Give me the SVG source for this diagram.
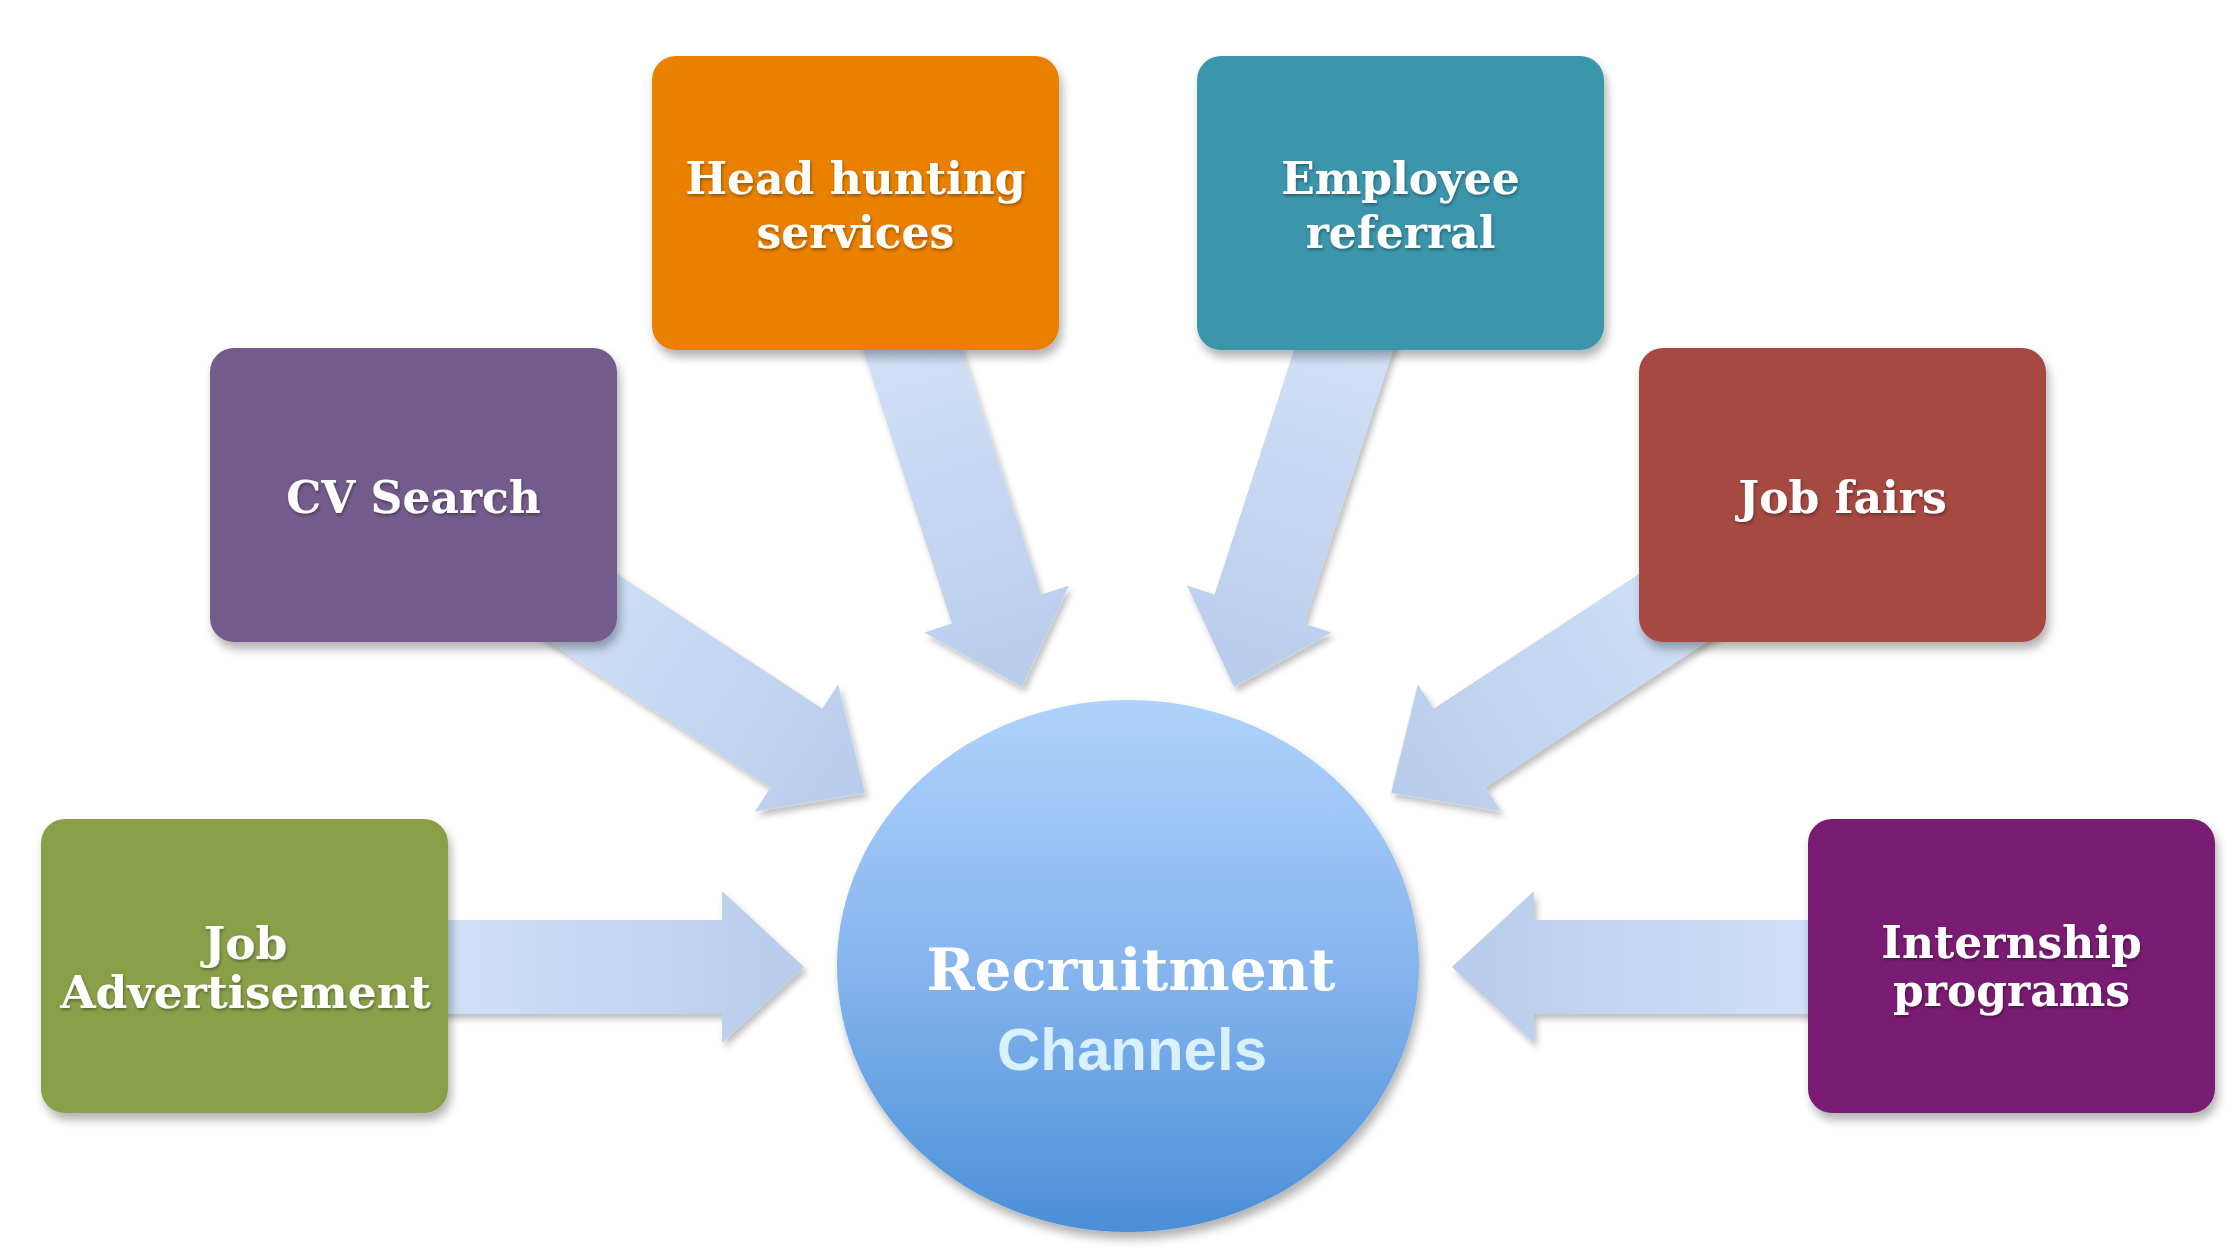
<svg xmlns="http://www.w3.org/2000/svg" width="2240" height="1260" viewBox="0 0 2240 1260">
  <defs>
    <linearGradient id="arrowGrad" gradientUnits="userSpaceOnUse" x1="-400" y1="0" x2="0" y2="0">
      <stop offset="0" stop-color="#d2e2f8"/>
      <stop offset="1" stop-color="#b8cceb"/>
    </linearGradient>
    <linearGradient id="circleGrad" x1="0" y1="0" x2="0" y2="1">
      <stop offset="0" stop-color="#b0d2fc"/>
      <stop offset="0.5" stop-color="#86b5ee"/>
      <stop offset="1" stop-color="#4a8fd8"/>
    </linearGradient>
    <filter id="shadow" x="-10%" y="-10%" width="125%" height="130%">
      <feDropShadow dx="3" dy="7" stdDeviation="5" flood-color="#000" flood-opacity="0.3"/>
    </filter>
    <filter id="arrowShadow" x="-10%" y="-10%" width="125%" height="130%">
      <feDropShadow dx="3" dy="5" stdDeviation="3" flood-color="#000" flood-opacity="0.25"/>
    </filter>
    <filter id="textShadow" x="-10%" y="-20%" width="120%" height="150%">
      <feDropShadow dx="1" dy="2" stdDeviation="1.5" flood-color="#000" flood-opacity="0.35"/>
    </filter>
  </defs>
  <style>
    .arrow { fill: url(#arrowGrad); }
    .box { filter: url(#shadow); }
    .label { font-family: "DejaVu Serif", "Liberation Serif", serif; font-weight: bold; font-size: 44px; fill: #ffffff; text-anchor: middle; filter: url(#textShadow); }
    .label.wide { font-size: 45.5px; }
    .title { font-family: "DejaVu Serif", "Liberation Serif", serif; font-weight: bold; font-size: 58px; fill: #ffffff; text-anchor: middle; }
    .sub { font-family: "Liberation Sans", Arial, sans-serif; font-weight: bold; font-size: 60px; fill: #d9f1fd; text-anchor: middle; }
  </style>
  <rect width="2240" height="1260" fill="#ffffff"/>

  <g id="connectors" filter="url(#arrowShadow)">
    <path class="arrow" d="M0,0 L-82,-76 L-82,-47 L-400,-47 L-400,47 L-82,47 L-82,76 Z" transform="translate(804,967)"/>
    <path class="arrow" d="M0,0 L-82,-76 L-82,-47 L-400,-47 L-400,47 L-82,47 L-82,76 Z" transform="translate(1452,967) rotate(180)"/>
    <path class="arrow" d="M0,0 L-82,-76 L-82,-47 L-400,-47 L-400,47 L-82,47 L-82,76 Z" transform="translate(865,793) rotate(33.3)"/>
    <path class="arrow" d="M0,0 L-82,-76 L-82,-47 L-400,-47 L-400,47 L-82,47 L-82,76 Z" transform="translate(1391,793) rotate(146.7)"/>
    <path class="arrow" d="M0,0 L-82,-76 L-82,-47 L-400,-47 L-400,47 L-82,47 L-82,76 Z" transform="translate(1022,687) rotate(72)"/>
    <path class="arrow" d="M0,0 L-82,-76 L-82,-47 L-400,-47 L-400,47 L-82,47 L-82,76 Z" transform="translate(1234,687) rotate(108)"/>
  </g>

  <g id="center">
    <ellipse cx="1128" cy="966" rx="291" ry="266" fill="url(#circleGrad)" filter="url(#shadow)"/>
    <text class="title" x="1131" y="990">Recruitment</text>
    <text class="sub" x="1132" y="1070">Channels</text>
  </g>

  <g id="head-hunting">
    <rect class="box" x="652" y="56" width="407" height="294" rx="24" fill="#e98005"/>
    <text class="label" x="855.5" y="194">Head hunting</text>
    <text class="label" x="855.5" y="248">services</text>
  </g>
  <g id="employee-referral">
    <rect class="box" x="1197" y="56" width="407" height="294" rx="24" fill="#3b95ab"/>
    <text class="label" x="1400.5" y="194">Employee</text>
    <text class="label" x="1400.5" y="248">referral</text>
  </g>
  <g id="cv-search">
    <rect class="box" x="210" y="348" width="407" height="294" rx="24" fill="#735c8b"/>
    <text class="label" x="413.5" y="513">CV Search</text>
  </g>
  <g id="job-fairs">
    <rect class="box" x="1639" y="348" width="407" height="294" rx="24" fill="#a54942"/>
    <text class="label" x="1842.5" y="513">Job fairs</text>
  </g>
  <g id="job-advertisement">
    <rect class="box" x="41" y="819" width="407" height="294" rx="24" fill="#89a04a"/>
    <text class="label wide" x="245.5" y="959">Job</text>
    <text class="label wide" x="245.5" y="1008">Advertisement</text>
  </g>
  <g id="internship-programs">
    <rect class="box" x="1808" y="819" width="407" height="294" rx="24" fill="#7a1a73"/>
    <text class="label" x="2011.5" y="958">Internship</text>
    <text class="label" x="2011.5" y="1006">programs</text>
  </g>
</svg>
